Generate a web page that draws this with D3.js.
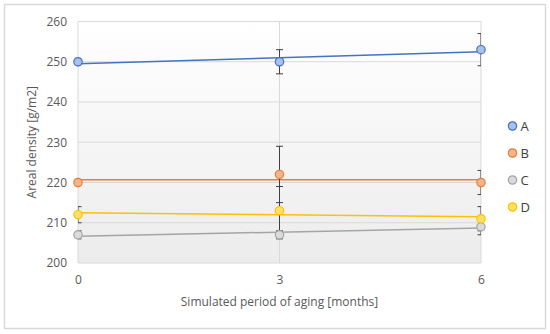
<!DOCTYPE html>
<html>
<head>
<meta charset="utf-8">
<script src="https://cdn.jsdelivr.net/npm/d3@7"></script>
<style>
  body { margin: 0; background: #fff; }
  text { font-family: "Open Sans", sans-serif; }
</style>
</head>
<body>
<div id="chart"></div>
<script>
const width = 550;
const height = 334;

// months
const months = [0, 3, 6];
const seriesNames = ["A", "B", "C", "D"];
const valuesA = [250, 250, 253];
const valuesB = [220, 222, 220];
const valuesC = [207, 207, 209];
const valuesD = [212, 213, 211];
const errorsA = [0.4, 3, 4];
const errorsB = [0.4, 7, 3];
const errorsC = [1, 1, 2];
const errorsD = [2, 6, 3];
const yTicks = [200, 210, 220, 230, 240, 250, 260];
const xTicks = [0, 3, 6];

const colors = {
  A: { line: "#4472C4", fill: "#A9C0EA" },
  B: { line: "#ED7D31", fill: "#F4B58C" },
  C: { line: "#A5A5A5", fill: "#DADADA" },
  D: { line: "#FFC000", fill: "#FFE066" }
};

const series = [
  { name: "A", values: valuesA, errors: errorsA },
  { name: "B", values: valuesB, errors: errorsB },
  { name: "C", values: valuesC, errors: errorsC },
  { name: "D", values: valuesD, errors: errorsD }
];

const plot = { left: 78, right: 481, top: 21.5, bottom: 263 };

const x = d3.scaleLinear().domain([0, 6]).range([plot.left, plot.right]);
const y = d3.scaleLinear().domain([200, 260]).range([plot.bottom, plot.top]);

const svg = d3.select("#chart").append("svg")
  .attr("width", width)
  .attr("height", height);

const defs = svg.append("defs");
const grad = defs.append("linearGradient")
  .attr("id", "plotBg")
  .attr("x1", 0).attr("y1", 0).attr("x2", 0).attr("y2", 1);
grad.append("stop").attr("offset", "0%").attr("stop-color", "#ffffff");
grad.append("stop").attr("offset", "100%").attr("stop-color", "#ececec");

defs.append("clipPath").attr("id", "plotClip")
  .append("rect")
  .attr("x", plot.left).attr("y", plot.top - 10)
  .attr("width", plot.right - plot.left)
  .attr("height", plot.bottom - plot.top + 20);

// outer frame
svg.append("rect")
  .attr("x", 4.5).attr("y", 4.5)
  .attr("width", 541).attr("height", 324)
  .attr("fill", "#fff")
  .attr("stroke", "#d9d9d9")
  .attr("stroke-width", 1.5);

// plot background
svg.append("rect")
  .attr("x", plot.left).attr("y", plot.top)
  .attr("width", plot.right - plot.left)
  .attr("height", plot.bottom - plot.top)
  .attr("fill", "url(#plotBg)");

// horizontal gridlines
svg.append("g")
  .selectAll("line")
  .data(yTicks)
  .join("line")
  .attr("x1", plot.left).attr("x2", plot.right)
  .attr("y1", d => y(d)).attr("y2", d => y(d))
  .attr("stroke", "#d9d9d9")
  .attr("stroke-width", 1);

// vertical gridlines
svg.append("g")
  .selectAll("line")
  .data(xTicks)
  .join("line")
  .attr("x1", d => x(d)).attr("x2", d => x(d))
  .attr("y1", plot.top).attr("y2", plot.bottom)
  .attr("stroke", "#d9d9d9")
  .attr("stroke-width", 1);

// axes (labels only, Excel style)
const yAxis = svg.append("g")
  .attr("transform", `translate(${plot.left},0)`)
  .call(d3.axisLeft(y).tickValues(yTicks).tickSize(0).tickPadding(11));
yAxis.select(".domain").remove();
yAxis.selectAll("text")
  .attr("fill", "#595959")
  .style("font-size", "12px");

const xAxis = svg.append("g")
  .attr("transform", `translate(0,${plot.bottom})`)
  .call(d3.axisBottom(x).tickValues(xTicks).tickFormat(d3.format("d")).tickSize(0).tickPadding(12));
xAxis.select(".domain").remove();
xAxis.selectAll("text")
  .attr("fill", "#595959")
  .style("font-size", "12px");

// axis titles
svg.append("text")
  .attr("transform", `translate(36,${(plot.top + plot.bottom) / 2}) rotate(-90)`)
  .attr("text-anchor", "middle")
  .attr("fill", "#595959")
  .style("font-size", "12px")
  .text("Areal density [g/m2]");

svg.append("text")
  .attr("x", (plot.left + plot.right) / 2)
  .attr("y", 306)
  .attr("text-anchor", "middle")
  .attr("fill", "#595959")
  .style("font-size", "12px")
  .text("Simulated period of aging [months]");

// linear trendline from least squares
function trend(values) {
  const mx = d3.mean(months);
  const my = d3.mean(values);
  const slope = d3.sum(months, (m, i) => (m - mx) * (values[i] - my)) /
    d3.sum(months, m => (m - mx) * (m - mx));
  const intercept = my - slope * mx;
  return [0, 6].map(m => [m, intercept + slope * m]);
}

const lines = svg.append("g");
series.forEach(s => {
  lines.append("path")
    .datum(trend(s.values))
    .attr("fill", "none")
    .attr("stroke", colors[s.name].line)
    .attr("stroke-width", 1.5)
    .attr("d", d3.line().x(d => x(d[0])).y(d => y(d[1])));
});

// error bars
const errG = svg.append("g").attr("clip-path", "url(#plotClip)");
series.forEach(s => {
  const pts = months.map((m, i) => ({ m, v: s.values[i], e: s.errors[i] }));
  const g = errG.append("g");
  g.selectAll("line.stem")
    .data(pts)
    .join("line")
    .attr("class", "stem")
    .attr("x1", d => x(d.m)).attr("x2", d => x(d.m))
    .attr("y1", d => y(d.v + d.e)).attr("y2", d => y(d.v - d.e))
    .attr("stroke", "#404040").attr("stroke-width", 1);
  ["top", "bottom"].forEach(side => {
    g.selectAll("line.cap-" + side)
      .data(pts)
      .join("line")
      .attr("class", "cap-" + side)
      .attr("x1", d => x(d.m) - 3.5).attr("x2", d => x(d.m) + 3.5)
      .attr("y1", d => y(side === "top" ? d.v + d.e : d.v - d.e))
      .attr("y2", d => y(side === "top" ? d.v + d.e : d.v - d.e))
      .attr("stroke", "#404040").attr("stroke-width", 1);
  });
});

// markers
series.forEach(s => {
  svg.append("g")
    .selectAll("circle")
    .data(months.map((m, i) => ({ m, v: s.values[i] })))
    .join("circle")
    .attr("cx", d => x(d.m))
    .attr("cy", d => y(d.v))
    .attr("r", 4.2)
    .attr("fill", colors[s.name].fill)
    .attr("stroke", colors[s.name].line)
    .attr("stroke-width", 1.2);
});

// legend
const legend = svg.append("g")
  .selectAll("g")
  .data(seriesNames)
  .join("g")
  .attr("transform", (d, i) => `translate(512.5,${126 + i * 27})`);
legend.append("circle")
  .attr("r", 4.2)
  .attr("fill", d => colors[d].fill)
  .attr("stroke", d => colors[d].line)
  .attr("stroke-width", 1.2);
legend.append("text")
  .attr("x", 8)
  .attr("dy", "0.36em")
  .attr("fill", "#404040")
  .style("font-size", "13px")
  .text(d => d);
</script>
</body>
</html>
